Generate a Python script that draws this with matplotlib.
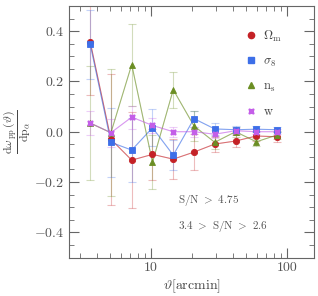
import numpy as np
import matplotlib
matplotlib.use("Agg")
import matplotlib.pyplot as plt
from matplotlib.ticker import MultipleLocator, LogLocator, NullFormatter, FixedLocator, FixedFormatter

plt.rcParams['font.family'] = 'serif'
plt.rcParams['font.serif'] = ['cmr10', 'DejaVu Serif']
plt.rcParams['mathtext.fontset'] = 'cm'
plt.rcParams['axes.formatter.use_mathtext'] = True

theta = [3.58, 5.08, 7.22, 10.26, 14.57, 20.7, 29.4, 41.8, 59.4, 84.3]

om_val = [0.357, -0.030, -0.113, -0.090, -0.109, -0.081, -0.049, -0.037, -0.017, -0.020]
om_err = [0.210, 0.260, 0.190, 0.100, 0.080, 0.072, 0.030, 0.025, 0.020, 0.020]

s8_val = [0.347, -0.042, -0.073, 0.016, -0.093, 0.052, 0.011, 0.008, 0.010, 0.008]
s8_err = [0.137, 0.137, 0.127, 0.074, 0.060, 0.032, 0.023, 0.015, 0.012, 0.010]

ns_val = [0.034, -0.004, 0.267, -0.122, 0.167, 0.023, -0.042, 0.000, -0.040, -0.013]
ns_err = [0.227, 0.253, 0.163, 0.107, 0.071, 0.060, 0.025, 0.020, 0.015, 0.015]

w_val = [0.035, -0.004, 0.058, 0.025, 0.000, 0.000, -0.010, 0.004, 0.000, 0.000]
w_err = [0.047, 0.055, 0.046, 0.030, 0.020, 0.020, 0.015, 0.012, 0.010, 0.010]

labels = [r'$\Omega_{\rm m}$', r'$\sigma_8$', r'$\rm n_s$', r'$\rm w$']
colors = ['#c42126', '#3d6fe8', '#6b8e23', '#c45ee8']
markers = ['o', 's', '^', (4, 1, 45)]
sizes = [4.5, 4.0, 5.0, 5.0]

fig = plt.figure(figsize=(3.18, 2.96), dpi=100)
ax = fig.add_axes([0.217, 0.130, 0.771, 0.850])

series = [(om_val, om_err), (s8_val, s8_err), (ns_val, ns_err), (w_val, w_err)]
for (v, e), c, m, ms in zip(series, colors, markers, sizes):
    ax.errorbar(theta, v, yerr=e, color=c, alpha=0.3, lw=0.8, capsize=3, capthick=0.8, zorder=1)
    ax.plot(theta, v, color=c, lw=0.7, alpha=0.5, zorder=2)
    ax.plot(theta, v, ls='none', marker=m, color=c, ms=ms, zorder=3,
            markeredgewidth=0.6 if m != (4, 1, 45) else 1.0)

handles = []
for c, m, ms in zip(colors, markers, sizes):
    h, = ax.plot([], [], ls='none', marker=m, color=c, ms=ms)
    handles.append(h)
ax.legend(handles, labels, loc='upper right', bbox_to_anchor=(0.915, 0.955),
          frameon=False, fontsize=9, labelspacing=0.95, handletextpad=0.5,
          handlelength=1.0, labelcolor='#444444')

ax.set_xscale('log')
ax.set_xlim(2.5, 158)
ax.set_ylim(-0.5, 0.5)

ax.yaxis.set_major_locator(MultipleLocator(0.2))
ax.yaxis.set_minor_locator(MultipleLocator(0.05))
ax.xaxis.set_major_locator(FixedLocator([10, 100]))
ax.xaxis.set_major_formatter(FixedFormatter(['10', '100']))
ax.xaxis.set_minor_locator(LogLocator(base=10, subs=np.arange(2, 10)))
ax.xaxis.set_minor_formatter(NullFormatter())

ax.tick_params(which='both', direction='in', top=True, right=True, colors='#666666',
               labelcolor='#555555', labelsize=10)
ax.tick_params(which='major', length=7, width=0.8)
ax.tick_params(which='minor', length=3.5, width=0.6)
for s in ax.spines.values():
    s.set_color('#666666')
    s.set_linewidth(0.8)

ax.set_xlabel(r'$\vartheta[\rm arcmin]$', fontsize=10, color='#444444', labelpad=2)
ax.set_ylabel(r'$\dfrac{\rm d\omega_{\,pp}\,(\vartheta)}{\rm d p_\alpha}$', fontsize=8.5,
              color='#444444')
ax.yaxis.set_label_coords(-0.145, 0.5)

ax.text(0.446, 0.215, r'S/N $>$ 4.75', transform=ax.transAxes, fontsize=8,
        color='#555555')
ax.text(0.446, 0.113, r'3.4 $>$ S/N $>$ 2.6', transform=ax.transAxes, fontsize=8,
        color='#555555')

fig.savefig('out.png', dpi=100)
